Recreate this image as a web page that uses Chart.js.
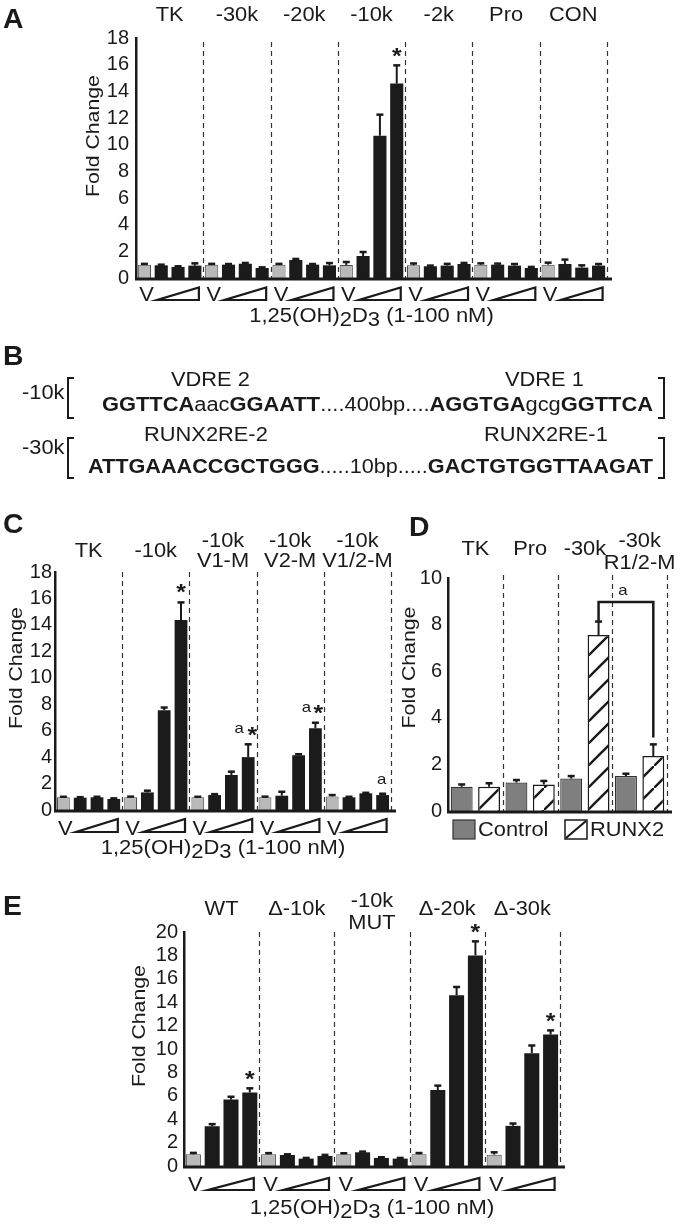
<!DOCTYPE html>
<html>
<head>
<meta charset="utf-8">
<title>Enhancer activity</title>
<script src="https://cdn.jsdelivr.net/npm/chart.js@4.4.1/dist/chart.umd.min.js"></script>
<style>
  html, body { margin: 0; padding: 0; background: #fff; }
  body { position: relative; width: 680px; height: 1224px; overflow: hidden;
         font-family: "Liberation Sans", Arial, Helvetica, sans-serif; color: #1a1a1a; }
  canvas { position: absolute; }
  .txt { position: absolute; line-height: 1; white-space: nowrap; }
  .brk { position: absolute; border: 2px solid #1a1a1a; width: 7px; height: 42px; box-sizing: border-box; }
</style>
</head>
<body>
<canvas id="chartA" width="680" height="330" style="left:0;top:0"></canvas>
<canvas id="chartC" width="400" height="380" style="left:0;top:480px"></canvas>
<canvas id="chartD" width="290" height="380" style="left:390px;top:480px"></canvas>
<canvas id="chartE" width="680" height="354" style="left:0;top:870px"></canvas>
<script>
const FONT = '"Liberation Sans", Arial, Helvetica, sans-serif';
const INK = '#1a1a1a';
const SX = 1.12;   // the figure's lettering is a bit wider than Arial

// ---- Panel A: 1,25(OH)2D3 dose response of each enhancer construct ----
const constructsA = [['TK'], ['-30k'], ['-20k'], ['-10k'], ['-2k'], ['Pro'], ['CON']];
const vehicleA    = [1.00, 1.00, 1.00, 0.98, 0.95, 1.00, 1.00];
const vehicleAErr = [0.06, 0.06, 0.06, 0.22, 0.14, 0.10, 0.15];
const lowA        = [0.95, 1.00, 1.35, 1.65, 0.88, 1.00, 1.05];
const lowAErr     = [0.05, 0.05, 0.08, 0.30, 0.05, 0.08, 0.33];
const midA        = [0.83, 1.07, 1.00, 10.67, 0.93, 0.93, 0.78];
const midAErr     = [0.05, 0.06, 0.05, 1.58, 0.13, 0.12, 0.17];
const highA       = [0.93, 0.75, 0.95, 14.58, 1.05, 0.75, 0.93];
const highAErr    = [0.17, 0.05, 0.17, 1.37, 0.08, 0.08, 0.12];

// ---- Panel B: response elements ----
const vdreSites = ['VDRE 2', 'VDRE 1'];
const vdreSeq   = [['GGTTCA', 1], ['aac', 0], ['GGAATT', 1], ['....400bp....', 0], ['AGGTGA', 1], ['gcg', 0], ['GGTTCA', 1]];
const runxSites = ['RUNX2RE-2', 'RUNX2RE-1'];
const runxSeq   = [['ATTGAAACCGCTGGG', 1], ['.....10bp.....', 0], ['GACTGTGGTTAAGAT', 1]];

// ---- Panel C: -10k VDRE mutants ----
const constructsC = [['TK'], ['-10k'], ['-10k', 'V1-M'], ['-10k', 'V2-M'], ['-10k', 'V1/2-M']];
const vehicleC    = [0.96, 0.96, 0.96, 0.96, 1.03];
const vehicleCErr = [0.04, 0.05, 0.04, 0.05, 0.10];
const lowC        = [0.93, 1.33, 1.13, 1.08, 0.96];
const lowCErr     = [0.04, 0.13, 0.07, 0.30, 0.04];
const midC        = [0.96, 7.55, 2.65, 4.14, 1.26];
const midCErr     = [0.04, 0.20, 0.25, 0.08, 0.04];
const highC       = [0.83, 14.37, 4.00, 6.19, 1.13];
const highCErr    = [0.05, 1.33, 0.97, 0.41, 0.10];

// ---- Panel D: RUNX2 co-transfection ----
const constructsD = [['TK'], ['Pro'], ['-30k'], ['-30k', 'R1/2-M']];
const controlD    = [1.04, 1.22, 1.39, 1.50];
const controlDErr = [0.10, 0.11, 0.11, 0.10];
const runx2D      = [1.04, 1.14, 7.55, 2.36];
const runx2DErr   = [0.15, 0.15, 0.58, 0.50];
const bracketD    = [8.11, 8.97, 3.15];   // left foot, top, right foot

// ---- Panel E: BAC deletions ----
const constructsE = [['WT'], ['\u0394-10k'], ['-10k', 'MUT'], ['\u0394-20k'], ['\u0394-30k']];
const vehicleE    = [1.00, 1.00, 1.00, 1.00, 0.97];
const vehicleEErr = [0.12, 0.10, 0.09, 0.11, 0.20];
const lowE        = [3.40, 0.94, 1.17, 6.50, 3.43];
const lowEErr     = [0.18, 0.06, 0.06, 0.37, 0.20];
const midE        = [5.69, 0.63, 0.69, 14.60, 9.64];
const midEErr     = [0.23, 0.06, 0.06, 0.70, 0.66];
const highE       = [6.29, 0.86, 0.63, 18.00, 11.24];
const highEErr    = [0.35, 0.09, 0.06, 1.20, 0.35];

Chart.defaults.font.family = FONT;
Chart.defaults.color = INK;

// text on canvas, centred on the cap height
function label(ctx, s, x, cy, size, o = {}) {
  ctx.save();
  ctx.font = (o.bold ? 'bold ' : '') + size + 'px ' + FONT;
  ctx.fillStyle = INK;
  ctx.textBaseline = 'alphabetic';
  const w = ctx.measureText(s).width * SX;
  const left = o.align === 'left' ? x : x - w / 2;
  ctx.translate(left, cy + (o.k || 0.358) * size);
  ctx.scale(SX, 1);
  ctx.fillText(s, 0, 0);
  ctx.restore();
}

function doseLabel(ctx, cx, cy) {
  const size = 20;
  const parts = [['1,25(OH)', 0], ['2', 4], ['D', 0], ['3', 4], [' (1-100 nM)', 0]];
  ctx.save();
  ctx.font = size + 'px ' + FONT;
  ctx.fillStyle = INK;
  const widths = parts.map(p => ctx.measureText(p[0]).width);
  const total = widths.reduce((s, w) => s + w, 0) * 1.1;
  ctx.translate(cx - total / 2, cy + 0.358 * size);
  ctx.scale(1.1, 1);
  let xx = 0;
  parts.forEach((p, i) => { ctx.fillText(p[0], xx, p[1]); xx += widths[i]; });
  ctx.restore();
}

function hatch() {
  const c = document.createElement('canvas');
  c.width = 22; c.height = 22;
  const g = c.getContext('2d');
  g.fillStyle = '#fff';
  g.fillRect(0, 0, 22, 22);
  g.strokeStyle = INK;
  g.lineWidth = 2.4;
  g.beginPath(); g.moveTo(-3, 25); g.lineTo(25, -3); g.stroke();
  return g.createPattern(c, 'repeat');
}

const layoutOf = {};

const figurePlugin = {
  id: 'figure',
  beforeDatasetsDraw(chart) {
    const L = layoutOf[chart.canvas.id];
    const { ctx, chartArea: a, scales: { x } } = chart;
    const n = chart.data.labels.length;
    ctx.save();
    ctx.strokeStyle = '#333';
    ctx.lineWidth = 1.2;
    ctx.setLineDash([5, 4]);
    for (let i = 0; i < n; i++) {
      const xb = i < n - 1 ? (x.getPixelForValue(i) + x.getPixelForValue(i + 1)) / 2 : a.right;
      const px = Math.round(xb) + 0.5;
      ctx.beginPath(); ctx.moveTo(px, a.top + L.dashTop); ctx.lineTo(px, a.bottom); ctx.stroke();
    }
    ctx.restore();
  },
  afterDatasetsDraw(chart) {
    const L = layoutOf[chart.canvas.id];
    const { ctx, chartArea: a, scales: { x, y } } = chart;

    // error bars (upper half only)
    chart.data.datasets.forEach((ds, di) => {
      const meta = chart.getDatasetMeta(di);
      ds.errs.forEach((e, i) => {
        const bar = meta.data[i];
        const yt = y.getPixelForValue(ds.data[i] + e);
        ctx.save();
        ctx.strokeStyle = INK;
        ctx.lineWidth = 2;
        ctx.beginPath(); ctx.moveTo(bar.x, bar.y); ctx.lineTo(bar.x, yt); ctx.stroke();
        ctx.lineWidth = 2.5;
        ctx.beginPath(); ctx.moveTo(bar.x - 3.5, yt); ctx.lineTo(bar.x + 3.5, yt); ctx.stroke();
        ctx.restore();
      });
    });

    // baseline
    ctx.save();
    ctx.strokeStyle = INK;
    ctx.lineWidth = 3;
    ctx.beginPath(); ctx.moveTo(a.left - 1, a.bottom + 1); ctx.lineTo(a.right + 5, a.bottom + 1); ctx.stroke();
    ctx.restore();

    // construct names above each group
    chart.data.labels.forEach((lines, i) => {
      const cx = x.getPixelForValue(i);
      if (lines.length === 1) label(ctx, lines[0], cx, a.top + L.one, 19.5);
      else lines.forEach((s, k) => label(ctx, s, cx, a.top + L.two[k], 19.5));
    });

    // y title
    ctx.save();
    ctx.translate(L.titleX, (a.top + a.bottom) / 2 + L.titleDy);
    ctx.rotate(-Math.PI / 2);
    label(ctx, 'Fold Change', 0, 0, 19);
    ctx.restore();

    // V + dose wedge under every group
    if (L.vDy) {
      const mv = chart.getDatasetMeta(0), m1 = chart.getDatasetMeta(1), m3 = chart.getDatasetMeta(3);
      chart.data.labels.forEach((_, i) => {
        label(ctx, 'V', mv.data[i].x + 2, a.bottom + L.vDy, 19.5);
        const l = m1.data[i].x - 4, r = m3.data[i].x + 4, b = a.bottom + L.triBottom;
        ctx.save();
        ctx.fillStyle = '#fff';
        ctx.strokeStyle = INK;
        ctx.lineWidth = 2.2;
        ctx.beginPath(); ctx.moveTo(l, b); ctx.lineTo(r, b); ctx.lineTo(r, b - L.triH); ctx.closePath();
        ctx.fill(); ctx.stroke();
        ctx.restore();
      });
      doseLabel(ctx, (a.left + a.right) / 2, a.bottom + L.xlabDy);
    }

    // significance marks
    (L.marks || []).forEach(m => {
      const ds = chart.data.datasets[m.ds];
      const bx = chart.getDatasetMeta(m.ds).data[m.i].x;
      const cy = y.getPixelForValue(ds.data[m.i] + ds.errs[m.i]) - m.gap;
      m.items.forEach(([t, dx]) => {
        if (t === '*') label(ctx, t, bx + dx, cy, 22, { bold: true, k: 0.57 });
        else label(ctx, t, bx + dx, cy, 15, { k: 0.26 });
      });
    });

    // bracket in D
    if (L.bracket) {
      const meta = chart.getDatasetMeta(1);
      const x1 = meta.data[2].x, x2 = meta.data[3].x;
      const yTop = y.getPixelForValue(L.bracket[1]);
      ctx.save();
      ctx.strokeStyle = INK;
      ctx.lineWidth = 2.5;
      ctx.beginPath();
      ctx.moveTo(x1, y.getPixelForValue(L.bracket[0]));
      ctx.lineTo(x1, yTop); ctx.lineTo(x2, yTop);
      ctx.lineTo(x2, y.getPixelForValue(L.bracket[2]));
      ctx.stroke();
      ctx.restore();
      label(ctx, 'a', (x1 + x2) / 2 - 3, yTop - 11, 15, { k: 0.26 });
    }

    // legend in D
    if (L.legend) {
      const d0 = chart.data.datasets[0], d1 = chart.data.datasets[1];
      const lx = a.left, ly = a.bottom + 9;
      ctx.save();
      ctx.fillStyle = d0.backgroundColor;
      ctx.fillRect(lx + 5, ly, 22, 19);
      ctx.strokeStyle = '#333'; ctx.lineWidth = 1.2;
      ctx.strokeRect(lx + 5, ly, 22, 19);
      ctx.fillStyle = '#fff';
      ctx.fillRect(lx + 117, ly, 22, 19);
      ctx.strokeStyle = INK; ctx.lineWidth = 1.5;
      ctx.strokeRect(lx + 117, ly, 22, 19);
      ctx.lineWidth = 2.2;
      ctx.beginPath(); ctx.moveTo(lx + 118, ly + 18); ctx.lineTo(lx + 138, ly + 1); ctx.stroke();
      ctx.restore();
      label(ctx, d0.label, lx + 30, ly + 9.5, 19.5, { align: 'left' });
      label(ctx, d1.label, lx + 142, ly + 9.5, 19.5, { align: 'left' });
    }
  }
};

function doseSets(v, ve, lo, loe, mi, mie, hi, hie, pct) {
  const black = '#1b1b1b';
  return [
    { label: 'V', data: v, errs: ve, backgroundColor: '#b9b9b9', borderColor: '#4a4a4a', borderWidth: 1 },
    { label: '1 nM', data: lo, errs: loe, backgroundColor: black, borderWidth: 0 },
    { label: '10 nM', data: mi, errs: mie, backgroundColor: black, borderWidth: 0 },
    { label: '100 nM', data: hi, errs: hie, backgroundColor: black, borderWidth: 0 }
  ].map(d => Object.assign(d, { barPercentage: pct, categoryPercentage: 1 }));
}

function makeChart(id, labels, datasets, max, pad, tickPad) {
  return new Chart(document.getElementById(id), {
    type: 'bar',
    data: { labels, datasets },
    options: {
      responsive: false,
      animation: false,
      layout: { padding: pad },
      plugins: { legend: { display: false }, tooltip: { enabled: false } },
      scales: {
        x: { display: false },
        y: {
          min: 0, max,
          ticks: { stepSize: 2, autoSkip: false, padding: tickPad, font: { size: 20 }, color: INK },
          grid: { display: false, drawTicks: false },
          border: { color: INK, width: 2.5 },
          afterFit: s => { s.width = 40; }
        }
      }
    },
    plugins: [figurePlugin]
  });
}

// ---- A ----
layoutOf.chartA = { dashTop: 4, one: -24, vDy: 16.5, triBottom: 22, triH: 12.5, xlabDy: 37, titleX: 92, titleDy: -22,
  marks: [{ ds: 3, i: 3, gap: 15, items: [['*', 0]] }] };
makeChart('chartA', constructsA,
  doseSets(vehicleA, vehicleAErr, lowA, lowAErr, midA, midAErr, highA, highAErr, 0.78),
  18, { left: 96, right: 73, top: 38, bottom: 52 }, 7);

// ---- C ----
layoutOf.chartC = { dashTop: 0, one: -22, two: [-32, -12], vDy: 18.5, triBottom: 22, triH: 13, xlabDy: 37, titleX: 15, titleDy: -23,
  marks: [
    { ds: 3, i: 1, gap: 16, items: [['*', 0]] },
    { ds: 3, i: 2, gap: 15, items: [['a', -9], ['*', 4]] },
    { ds: 3, i: 3, gap: 15, items: [['a', -9], ['*', 3]] },
    { ds: 3, i: 4, gap: 14, items: [['a', -1]] }
  ] };
makeChart('chartC', constructsC,
  doseSets(vehicleC, vehicleCErr, lowC, lowCErr, midC, midCErr, highC, highCErr, 0.76),
  18, { left: 15, right: 9, top: 92, bottom: 50 }, 3);

// ---- D ----
layoutOf.chartD = { dashTop: -3, one: -30, two: [-38, -16], titleX: 18, titleDy: -27, legend: true, bracket: bracketD };
makeChart('chartD', constructsD, [
  { label: 'Control', data: controlD, errs: controlDErr, backgroundColor: '#7f7f7f', borderColor: '#333', borderWidth: 1.2,
    barPercentage: 0.8, categoryPercentage: 1 },
  { label: 'RUNX2', data: runx2D, errs: runx2DErr, backgroundColor: hatch(), borderColor: INK, borderWidth: 1.5,
    barPercentage: 0.8, categoryPercentage: 1 }
], 10, { left: 18, right: 13, top: 98, bottom: 49 }, 6);

// ---- E ----
layoutOf.chartE = { dashTop: 0, one: -24, two: [-32, -10], vDy: 18.5, triBottom: 24, triH: 12, xlabDy: 40.5, titleX: 138, titleDy: -23,
  marks: [
    { ds: 3, i: 0, gap: 15, items: [['*', 0]] },
    { ds: 3, i: 3, gap: 15, items: [['*', 0]] },
    { ds: 3, i: 4, gap: 15, items: [['*', 0]] }
  ] };
makeChart('chartE', constructsE,
  doseSets(vehicleE, vehicleEErr, lowE, lowEErr, midE, midEErr, highE, highEErr, 0.8),
  20, { left: 144, right: 120, top: 62, bottom: 58 }, 6);

// ---- HTML lettering: panel letters and panel B ----
function put(parts, x, cy, size, o = {}) {
  const el = document.createElement('div');
  el.className = 'txt';
  el.style.fontSize = size + 'px';
  parts.forEach(([s, bold]) => {
    const sp = document.createElement('span');
    sp.textContent = s;
    if (bold) sp.style.fontWeight = 'bold';
    el.appendChild(sp);
  });
  el.style.top = (cy - 0.4885 * size) + 'px';
  el.style.left = '0px';
  document.body.appendChild(el);
  const w = el.getBoundingClientRect().width;
  const s = o.width ? o.width / w : (o.sx || SX);
  el.style.transformOrigin = '0 0';
  el.style.transform = 'scaleX(' + s + ')';
  el.style.left = (o.center ? x - w * s / 2 : x) + 'px';
}

[['A', 3, 19], ['B', 3, 356], ['C', 3, 524], ['D', 409, 527], ['E', 3, 906]]
  .forEach(([t, x, cy]) => put([[t, 1]], x, cy, 27, { sx: 1.05 }));

put([['-10k', 0]], 22, 393, 19.5);
put([[vdreSites[0], 0]], 210, 380, 19.5, { center: true });
put([[vdreSites[1], 0]], 544, 380, 19.5, { center: true });
put(vdreSeq, 102, 405, 19.5, { width: 551 });
put([['-30k', 0]], 22, 448, 19.5);
put([[runxSites[0], 0]], 206, 435, 19.5, { center: true });
put([[runxSites[1], 0]], 546, 435, 19.5, { center: true });
put(runxSeq, 88, 467, 19.5, { width: 565 });

[[67, 377, 'left'], [658, 377, 'right'], [67, 437, 'left'], [658, 437, 'right']].forEach(([x, top, side]) => {
  const b = document.createElement('div');
  b.className = 'brk';
  b.style.left = x + 'px';
  b.style.top = top + 'px';
  b.style[side === 'left' ? 'borderRight' : 'borderLeft'] = 'none';
  document.body.appendChild(b);
});
</script>
</body>
</html>
